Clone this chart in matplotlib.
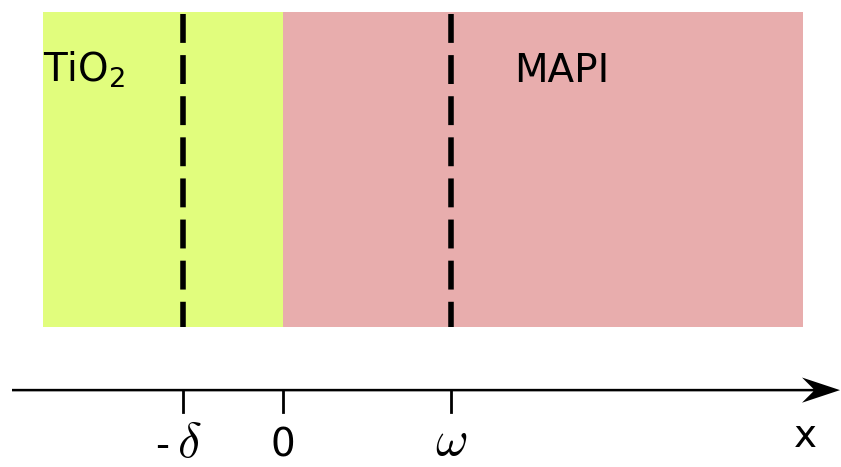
import matplotlib.pyplot as plt

# layer extents along x (arbitrary units, delta = 1)
layer_names = ["TiO$_2$", "MAPI"]
layer_edges = [-2.4, 0.0, 5.2]
layer_colors = ["#e1fd7d", "#e8adad"]

# dashed interfaces at -delta and omega
interfaces = [-1.0, 1.68]

# axis ticks
tick_pos = [-1.0, 0.0, 1.68]
tick_labels = ["-", "0", "$\\omega$"]

fig = plt.figure(figsize=(8.41, 4.67), dpi=100)
ax = fig.add_axes([0, 0, 1, 1])
ax.set_xlim(-2.83, 5.58)
ax.set_ylim(-0.444, 1.038)
ax.axis('off')

# coloured layers
for i in range(len(layer_names)):
    ax.fill_between([layer_edges[i], layer_edges[i + 1]], 0, 1,
                    color=layer_colors[i], lw=0)

ax.text(layer_edges[0], 0.778, layer_names[0], fontsize=28, ha='left', va='baseline')
ax.text(2.79, 0.778, layer_names[1], fontsize=28, ha='center', va='baseline')

# dashed interface lines
for xi in interfaces:
    ax.plot([xi, xi], [0.994, 0.0], color='black', lw=4,
            linestyle=(0, (5.2, 2.2)))

# x axis with arrow
ax.arrow(-2.71, -0.2, 8.28, 0, width=0.008, head_width=0.08, head_length=0.38,
         overhang=0.3, length_includes_head=True, color='black', lw=0)

for p in tick_pos:
    ax.plot([p, p], [-0.2, -0.27], color='black', lw=2)

# tick labels: minus sign in sans, greek letters in cm italic
ax.text(-1.21, -0.412, "-", fontsize=28, ha='center', va='baseline')
ax.text(-0.94, -0.412, "$\\delta$", fontsize=36, ha='center', va='baseline',
        math_fontfamily='cm')
ax.text(tick_pos[1], -0.412, tick_labels[1], fontsize=28, ha='center', va='baseline')
ax.text(tick_pos[2], -0.405, tick_labels[2], fontsize=36, ha='center', va='baseline',
        math_fontfamily='cm')

ax.text(5.22, -0.38, "x", fontsize=28, ha='center', va='baseline')

fig.savefig("out.png", dpi=100)
